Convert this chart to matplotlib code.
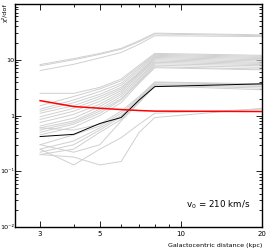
import numpy as np
import matplotlib
matplotlib.use('Agg')
import matplotlib.pyplot as plt
from matplotlib.ticker import FixedLocator, FixedFormatter, NullFormatter, LogLocator

plt.rcParams['font.family'] = ['Liberation Sans Narrow', 'DejaVu Sans']

# Galactocentric distance (kpc) where each chi2/dof curve is sampled
r_kpc = [3, 4, 5, 6, 7, 8, 20]

# grey curves: other models
gray_top = [
    [8.2, 10.5, 13.0, 16.0, 22.0, 30.0, 28.0],
    [7.8, 10.0, 12.5, 15.5, 21.0, 29.0, 27.0],
    [6.4, 8.3, 10.8, 13.5, 19.0, 27.0, 26.0],
]
gray_mid = [
    [2.5, 2.5, 3.2, 4.5, 8.0, 13.0, 12.0],
    [1.5, 2.2, 3.0, 4.2, 7.5, 12.5, 11.5],
    [1.3, 1.9, 2.7, 3.8, 7.0, 12.0, 11.0],
    [1.2, 1.7, 2.4, 3.5, 6.5, 11.5, 10.5],
    [1.1, 1.5, 2.2, 3.2, 6.0, 11.0, 10.0],
    [0.95, 1.35, 2.0, 3.0, 5.8, 10.5, 9.5],
    [0.85, 1.2, 1.8, 2.8, 5.5, 10.0, 9.0],
    [0.75, 1.05, 1.6, 2.6, 5.2, 9.5, 8.6],
    [0.65, 0.9, 1.45, 2.4, 4.8, 9.0, 8.2],
    [0.6, 0.8, 1.3, 2.2, 4.5, 8.5, 7.8],
    [0.55, 0.75, 1.2, 2.0, 4.2, 8.0, 7.3],
    [0.5, 0.7, 1.1, 1.9, 4.0, 7.5, 6.8],
    [0.45, 0.62, 1.0, 1.7, 3.8, 7.2, 6.6],
]
gray_low = [
    [0.6, 0.55, 0.7, 1.2, 2.2, 4.0, 3.7],
    [0.3, 0.45, 0.65, 1.1, 2.1, 3.9, 3.6],
    [0.25, 0.35, 0.6, 1.0, 2.0, 3.7, 3.5],
    [0.22, 0.3, 0.55, 0.95, 1.9, 3.6, 3.3],
    [0.2, 0.25, 0.5, 0.85, 1.8, 3.5, 3.1],
    [0.3, 0.22, 0.3, 0.8, 1.7, 3.4, 2.9],
    [0.2, 0.18, 0.13, 0.15, 0.5, 0.92, 1.35],
    [0.25, 0.13, 0.25, 0.4, 0.7, 1.1, 1.3],
]

chi2_best = [0.42, 0.46, 0.72, 0.92, 1.9, 3.3, 3.7]      # black
chi2_red = [1.85, 1.45, 1.35, 1.28, 1.23, 1.2, 1.18]     # red

ytick_vals = [0.01, 0.1, 1, 10, 100]
ytick_text = ['10⁻²', '10⁻¹', '1', '10', '']

fig = plt.figure(figsize=(2.66, 2.49), dpi=100)
ax = fig.add_axes([0.058, 0.088, 0.927, 0.896])

for y in gray_top + gray_mid + gray_low:
    ax.plot(r_kpc, y, color='#d0d0d0', lw=0.7)
ax.plot(r_kpc, chi2_best, color='black', lw=0.7)
ax.plot(r_kpc, chi2_red, color='red', lw=1.1)

ax.set_xscale('log')
ax.set_yscale('log')
ax.set_xlim(2.43, 20)
ax.set_ylim(0.01, 100)

ax.xaxis.set_major_locator(FixedLocator([3, 5, 10, 20]))
ax.xaxis.set_major_formatter(FixedFormatter(['3', '5', '10', '20']))
ax.xaxis.set_minor_locator(FixedLocator([4, 6, 7, 8, 9]))
ax.xaxis.set_minor_formatter(NullFormatter())

ax.yaxis.set_major_locator(FixedLocator(ytick_vals))
ax.yaxis.set_major_formatter(FixedFormatter(ytick_text))
ax.yaxis.set_minor_locator(LogLocator(base=10, subs=np.arange(2, 10)))
ax.yaxis.set_minor_formatter(NullFormatter())

ax.tick_params(which='both', direction='in', top=True, right=True,
               labelsize=5, width=0.6)
ax.tick_params(axis='x', pad=3)
ax.tick_params(axis='y', pad=0.8, labelsize=4.6)
ax.tick_params(which='major', length=4)
ax.tick_params(which='minor', length=2.5)
for s in ax.spines.values():
    s.set_linewidth(1.0)

ax.text(0.955, 0.07, 'v$_0$ = 210 km/s', transform=ax.transAxes,
        ha='right', va='bottom', fontsize=6.3)
fig.text(0.985, 0.005, 'Galactocentric distance (kpc)', ha='right', va='bottom',
         fontsize=4.6)
fig.text(0.005, 0.985, 'χ²/dof', rotation=90, ha='left',
         va='top', fontsize=4.6)

fig.savefig('out.png', dpi=100)
